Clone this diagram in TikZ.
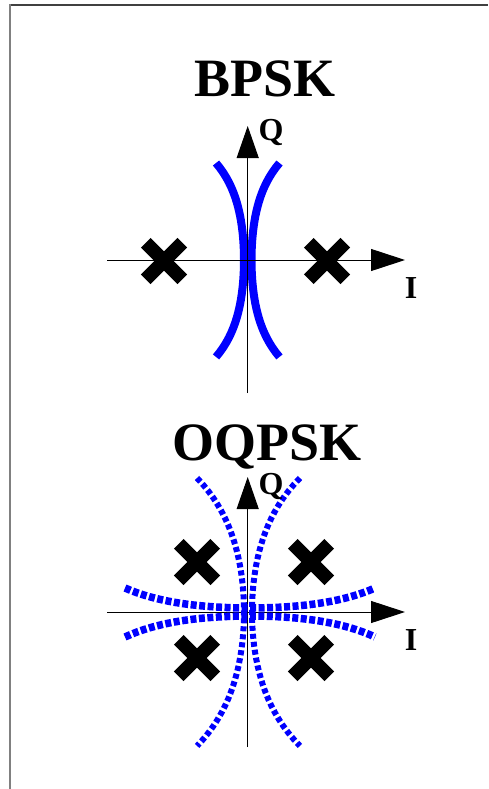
\documentclass[tikz,border=0pt]{standalone}
\usepackage{fontspec}
\setmainfont{Liberation Serif}
\usetikzlibrary{arrows.meta,shapes.misc}
\tikzset{
  title/.style={inner sep=0pt, anchor=base, font=\bfseries\fontsize{54}{60}\selectfont},
  axlbl/.style={inner sep=0pt, font=\bfseries\fontsize{32}{36}\selectfont},
  xmark/.style={cross out, draw=black, line width=13.5pt, minimum size=23pt, inner sep=0pt},
  haxis/.style={draw=black, line width=1pt, -{Triangle[length=34pt,width=22pt]}},
  vaxis/.style={draw=black, line width=1pt, -{Triangle[length=32pt,width=22pt]}},
  bcurve/.style={draw=blue, line width=8pt},
  qvcurve/.style={draw=blue, line width=6pt, dash pattern=on 5pt off 3pt},
  qhcurve/.style={draw=blue, line width=7.5pt, dash pattern=on 6pt off 2.5pt},
}
\begin{document}
\begin{tikzpicture}[x=1pt,y=-1pt]
\useasboundingbox (0,0) rectangle (488,789);
% frame
\draw[line width=1.6pt, black!75] (9,5) -- (488,5);
\draw[line width=2pt, black!50] (9.5,4.5) -- (9.5,789);

% ---------------- BPSK ----------------
\node[title] (t1) at (265,97) {BPSK};
\coordinate (b1l) at (107,260);
\coordinate (b1r) at (405,260);
\coordinate (b1b) at (247.7,393);
\coordinate (b1t) at (247.7,126);
\draw[bcurve] plot[domain=-1:1, samples=41] ({246-2-28*(cosh(2.5*\x)-1)/5.132}, {260+97*\x});
\draw[bcurve] plot[domain=-1:1, samples=41] ({249.5+2+28*(cosh(2.5*\x)-1)/5.132}, {260+97*\x});
\draw[haxis] (b1l) -- (b1r);
\draw[vaxis] (b1b) -- (b1t);
\node[xmark] (x1) at (164,261) {};
\node[xmark] (x2) at (327,261) {};
\node[axlbl] (q1) at (271,132) {Q};
\node[axlbl] (i1) at (411,288) {I};

% ---------------- OQPSK ----------------
\node[title] (t2) at (267,460) {OQPSK};
\coordinate (b2l) at (107,612);
\coordinate (b2r) at (405,612);
\coordinate (b2b) at (247.7,747);
\coordinate (b2t) at (247.7,477);
\draw[haxis] (b2l) -- (b2r);
\draw[vaxis] (b2b) -- (b2t);
\draw[qvcurve] plot[domain=-1:1, samples=41] ({244-47*(cosh(2.2*\x)-1)/3.57}, {612+134*\x});
\draw[qvcurve] plot[domain=-1:1, samples=41] ({252+48*(cosh(2.2*\x)-1)/3.57}, {612+134*\x});
\draw[qhcurve] plot[domain=-1:1, samples=41] ({250+125*\x}, {608-20*(cosh(2.2*\x)-1)/3.57});
\draw[qhcurve] plot[domain=-1:1, samples=41] ({250+125*\x}, {616+21*(cosh(2.2*\x)-1)/3.57});
\node[xmark] (x3) at (197,562) {};
\node[xmark] (x4) at (311,562) {};
\node[xmark] (x5) at (197,658) {};
\node[xmark] (x6) at (311,658) {};
\node[axlbl] (q2) at (271,486) {Q};
\node[axlbl] (i2) at (411,640) {I};
\end{tikzpicture}
\end{document}
